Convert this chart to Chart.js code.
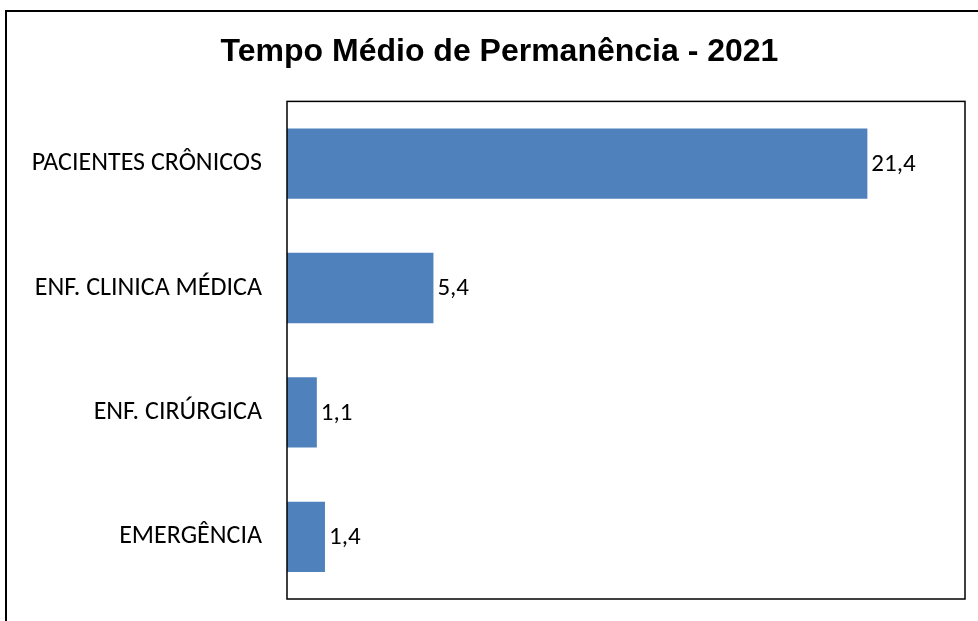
<!DOCTYPE html>
<html lang="pt-BR">
<head>
    <meta charset="UTF-8">
    <title>Tempo Médio de Permanência - 2021</title>
    <style>
        html, body {
            margin: 0;
            padding: 0;
            background-color: #ffffff;
        }
        #wrap {
            width: 978px;
            height: 621px;
        }
    </style>
    <script src="https://cdn.jsdelivr.net/npm/chart.js"></script>
</head>
<body>
    <div id="wrap">
        <canvas id="tempoChart" width="978" height="621"></canvas>
    </div>
    <script>
        // dados do gráfico
        var setores = ['PACIENTES CRÔNICOS', 'ENF. CLINICA MÉDICA', 'ENF. CIRÚRGICA', 'EMERGÊNCIA'];
        var diasMedios = [21.4, 5.4, 1.1, 1.4];
        var escalaMax = 25;

        var fonteTexto = 'Calibri, Carlito, Lato, sans-serif';

        // moldura externa + caixa da área do gráfico
        var molduras = {
            id: 'molduras',
            afterLayout: function (chart) {
                // o título fica um pouco à direita do centro no original
                if (chart.titleBlock) chart.titleBlock.left += 14;
            },
            afterDraw: function (chart) {
                var c = chart.ctx;
                var a = chart.chartArea;
                c.save();
                c.strokeStyle = '#000000';
                c.lineWidth = 2;
                c.strokeRect(6, 11, 1000, 700);
                c.lineWidth = 1.5;
                c.strokeRect(a.left, a.top, a.right - a.left, a.bottom - a.top);
                c.restore();
            }
        };

        // rótulos de valor ao lado das barras
        var rotulos = {
            id: 'rotulos',
            afterDatasetsDraw: function (chart) {
                var c = chart.ctx;
                var meta = chart.getDatasetMeta(0);
                c.save();
                c.fillStyle = '#000000';
                c.font = '25px ' + fonteTexto;
                c.textAlign = 'left';
                c.textBaseline = 'middle';
                meta.data.forEach(function (bar, i) {
                    var txt = diasMedios[i].toFixed(1).replace('.', ',');
                    c.fillText(txt, bar.x + 4, bar.y + 1);
                });
                c.restore();
            }
        };

        var ctx = document.getElementById('tempoChart').getContext('2d');
        new Chart(ctx, {
            type: 'bar',
            data: {
                labels: setores,
                datasets: [{
                    label: 'Tempo Médio de Permanência',
                    data: diasMedios,
                    backgroundColor: '#4F81BD',
                    borderWidth: 0,
                    categoryPercentage: 1,
                    barPercentage: 0.565
                }]
            },
            options: {
                indexAxis: 'y',
                responsive: false,
                animation: false,
                layout: {
                    padding: { left: 20, right: 13, top: 0, bottom: 22 }
                },
                plugins: {
                    legend: { display: false },
                    tooltip: { enabled: false },
                    title: {
                        display: true,
                        text: 'Tempo Médio de Permanência - 2021',
                        color: '#000000',
                        font: { family: 'Arial, "Liberation Sans", sans-serif', size: 32, weight: 'bold' },
                        padding: { top: 33, bottom: 30 }
                    }
                },
                scales: {
                    x: {
                        display: false,
                        min: 0,
                        max: escalaMax
                    },
                    y: {
                        grid: { display: false },
                        border: { display: false },
                        ticks: {
                            color: '#000000',
                            padding: 17,
                            font: { family: fonteTexto, size: 26 }
                        },
                        afterFit: function (scale) {
                            scale.width = 267;
                            scale.paddingTop = 0;
                            scale.paddingBottom = 0;
                        }
                    }
                }
            },
            plugins: [molduras, rotulos]
        });
    </script>
</body>
</html>
